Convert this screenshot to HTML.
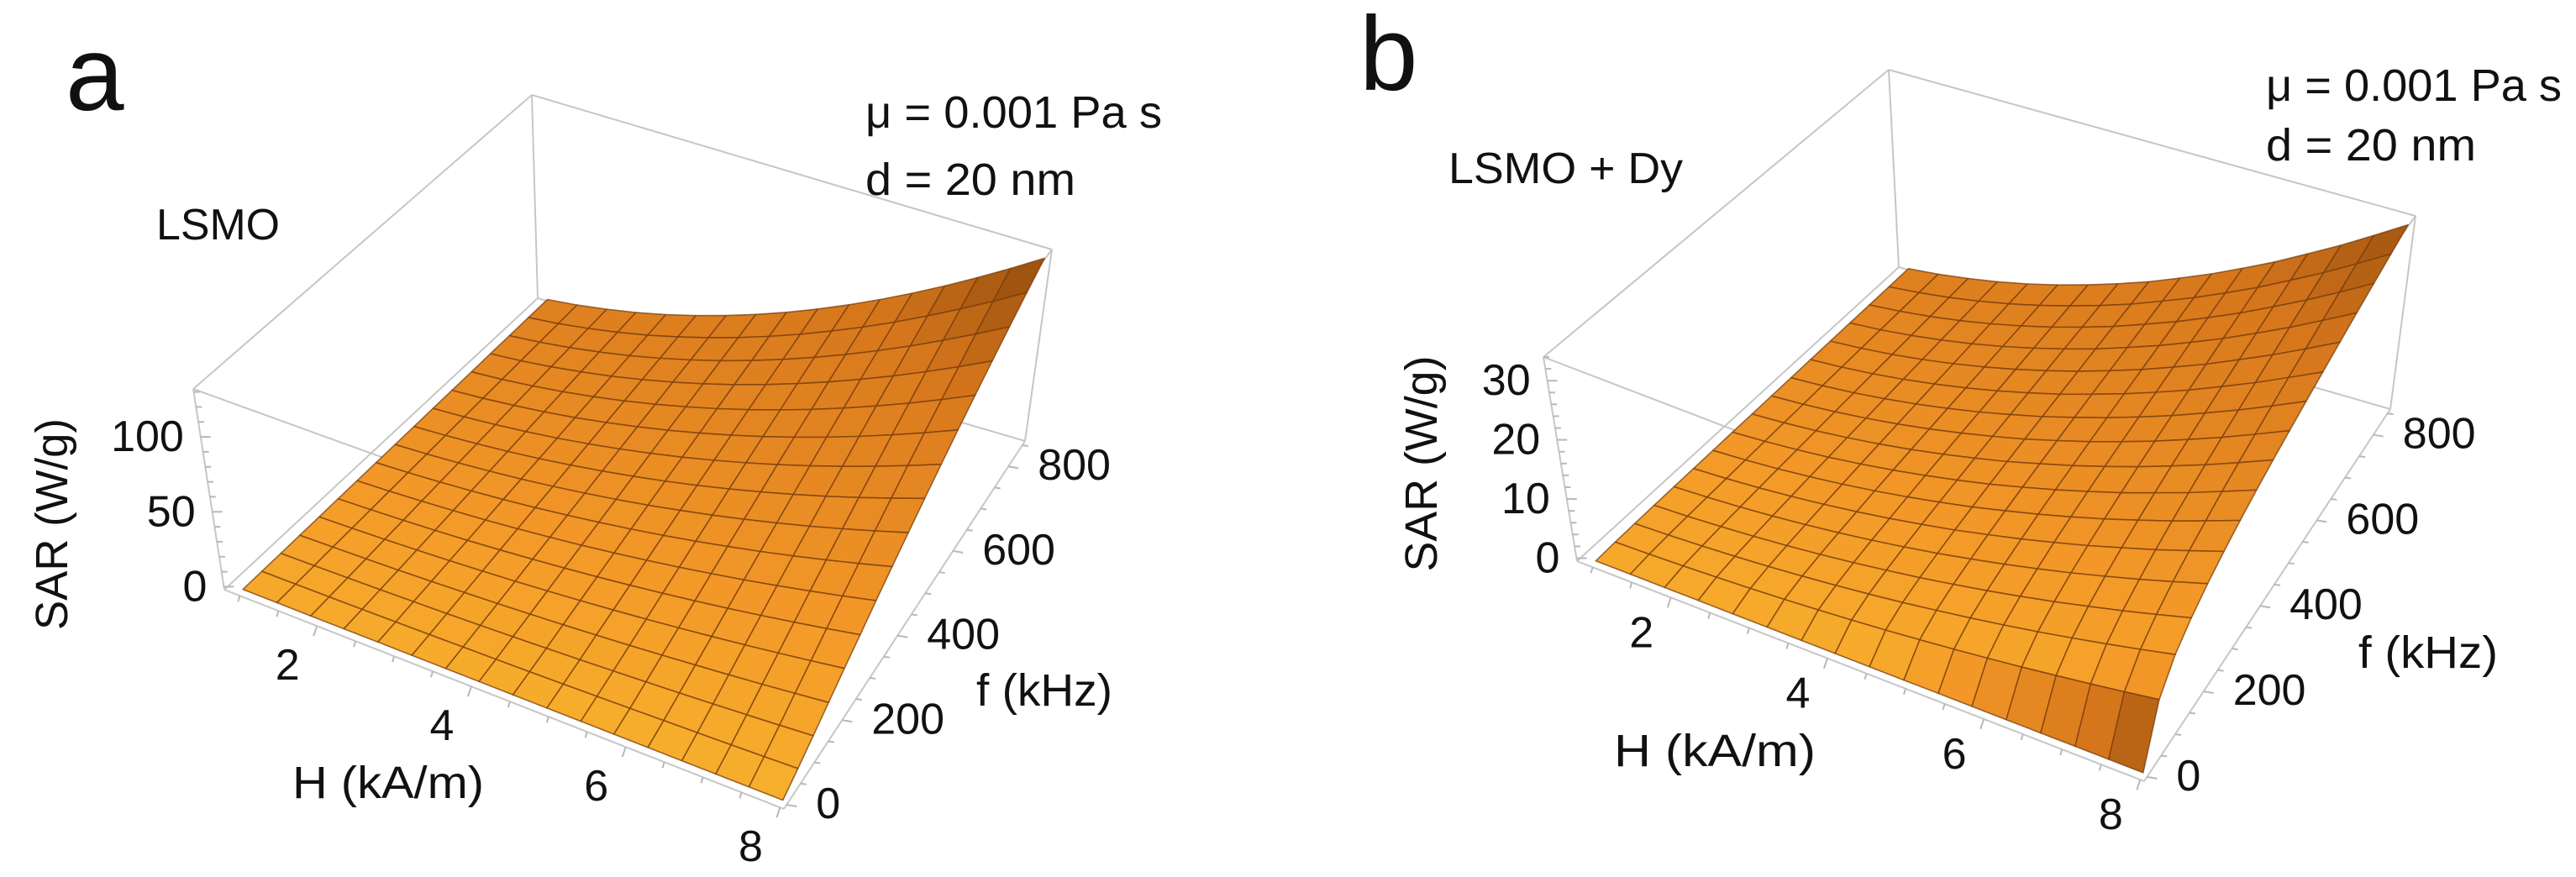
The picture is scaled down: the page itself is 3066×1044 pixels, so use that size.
<!DOCTYPE html>
<html><head><meta charset="utf-8"><style>
html,body{margin:0;padding:0;background:#fff;}
svg{display:block;}
text{font-family:"Liberation Sans",sans-serif;fill:#111;}
</style></head><body>
<svg id="fig" width="3066" height="1044" viewBox="0 0 3066 1044" xmlns="http://www.w3.org/2000/svg">
<rect width="3066" height="1044" fill="#fff"/>
<g id="panelA">
<text x="78" y="131" font-size="125">a</text>
<text x="1030" y="152" font-size="54" textLength="353" lengthAdjust="spacingAndGlyphs">μ = 0.001 Pa s</text>
<text x="1030" y="232" font-size="54" textLength="250" lengthAdjust="spacingAndGlyphs">d = 20 nm</text>
<text x="186" y="285" font-size="52" textLength="147" lengthAdjust="spacingAndGlyphs">LSMO</text>
<text transform="translate(80,624) rotate(-90)" text-anchor="middle" font-size="54" textLength="252" lengthAdjust="spacingAndGlyphs">SAR (W/g)</text>
<text x="348" y="950" font-size="54" textLength="228" lengthAdjust="spacingAndGlyphs">H (kA/m)</text>
<text x="1162" y="840" font-size="54" textLength="162" lengthAdjust="spacingAndGlyphs">f (kHz)</text>
</g>
<g id="panelB">
<text x="1618" y="107" font-size="125">b</text>
<text x="2697" y="120" font-size="54" textLength="352" lengthAdjust="spacingAndGlyphs">μ = 0.001 Pa s</text>
<text x="2697" y="191" font-size="54" textLength="250" lengthAdjust="spacingAndGlyphs">d = 20 nm</text>
<text x="1724" y="218" font-size="52" textLength="279" lengthAdjust="spacingAndGlyphs">LSMO + Dy</text>
<text transform="translate(1710,552) rotate(-90)" text-anchor="middle" font-size="54" textLength="257" lengthAdjust="spacingAndGlyphs">SAR (W/g)</text>
<text x="1921" y="912" font-size="54" textLength="240" lengthAdjust="spacingAndGlyphs">H (kA/m)</text>
<text x="2807" y="795" font-size="54" textLength="166" lengthAdjust="spacingAndGlyphs">f (kHz)</text>
</g>
</svg>
<script>
// ---- data ----
const hGrid = [1,1.44,1.88,2.31,2.75,3.19,3.63,4.06,4.5,4.94,5.38,5.81,6.25,6.69,7.13,7.56,8];
const fGrid = [0,53,106,159,213,266,319,372,425,478,531,584,638,691,744,797,850];
// panel a: SAR at max f vs H, and SAR at max H vs f
const sarA_vsH = [2.0,4.1,7.1,10.7,15.1,20.4,26.4,33.0,40.5,48.8,57.9,67.5,78.1,89.5,101.7,114.3,128];
const sarA_vsF = [0,6.1,13.0,20.3,27.9,35.6,43.6,51.6,59.7,68.0,76.3,84.8,93.3,101.9,110.5,119.2,128];
// panel b
const sarB_vsH = [0.52,1.07,1.82,2.75,3.9,5.25,6.8,8.5,10.4,12.6,14.9,17.4,20.1,23.1,26.2,29.5,33];
const sarB_vsF = [0,9,13,15.5,17.5,19.2,20.7,22.1,23.4,24.6,25.8,27,28.2,29.4,30.6,31.8,33];
const hTicks = [2,4,6,8];
const fTicks = [0,200,400,600,800];
const sarTicksA = [0,50,100];
const sarTicksB = [0,10,20,30];

const NS = "http://www.w3.org/2000/svg";
function mk(parent, tag, attrs){ const e=document.createElementNS(NS,tag); for(const k in attrs) e.setAttribute(k,attrs[k]); parent.appendChild(e); return e; }

function drawPanel(g, cfg, vsH, vsF, zTicks, name){
  const c = cfg.corners;
  function proj(u,v,w){
    let x=0,y=0;
    for(let a=0;a<2;a++)for(let b=0;b<2;b++)for(let d=0;d<2;d++){
      const wt=(a?u:1-u)*(b?v:1-v)*(d?w:1-w);
      x+=wt*c[a][b][d][0]; y+=wt*c[a][b][d][1];
    }
    return [x,y];
  }
  const uOf=h=>(h-cfg.hMin)/(cfg.hMax-cfg.hMin);
  const vOf=f=>(f-cfg.fMin)/(cfg.fMax-cfg.fMin);
  const wOf=s=>(s-cfg.zMin)/(cfg.zMax-cfg.zMin);
  const boxG = mk(g,'g',{});
  
  
  const edges=[[[0,0,0],[1,0,0]],[[1,0,0],[1,1,0]],[[1,1,0],[0,1,0]],[[0,1,0],[0,0,0]],
    [[0,0,1],[1,0,1]],[[1,0,1],[1,1,1]],[[1,1,1],[0,1,1]],[[0,1,1],[0,0,1]],
    [[0,0,0],[0,0,1]],[[1,1,0],[1,1,1]],[[0,1,0],[0,1,1]]];
  edges.forEach(e=>{ const p=proj(...e[0]), q=proj(...e[1]);
    mk(boxG,'line',{x1:p[0],y1:p[1],x2:q[0],y2:q[1],stroke:'#c6c6c6','stroke-width':2}); });
  const tickG = mk(g,'g',{});
  
  
  function tk(p,dx,dy){ mk(tickG,'line',{x1:p[0],y1:p[1],x2:p[0]+dx,y2:p[1]+dy,stroke:'#b8b8b8','stroke-width':2}); }
  for(let h=1;h<=8;h+=0.5){ tk(proj(uOf(h),0,0), (h%2===0?-4:-2), (h%2===0?12:7)); }
  for(let f=0;f<=850;f+=50){ tk(proj(1,vOf(f),0), (f%200===0?12:7), (f%200===0?2:1)); }
  const zStep = zTicks[1]-zTicks[0];
  for(let s=0;s<=cfg.zMax;s+=zStep/5){ tk(proj(0,0,wOf(s)), (Math.abs(s/zStep-Math.round(s/zStep))<1e-6?12:7), 0); }
  const sMax = vsH[vsH.length-1];
  const W=[]; for(let i=0;i<hGrid.length;i++){ W.push([]); for(let j=0;j<fGrid.length;j++) W[i].push(wOf(vsH[i]*vsF[j]/sMax)); }
  const surf = mk(g,'g',{});
  
  
  const cells=[];
  for(let i=0;i<hGrid.length-1;i++)for(let j=0;j<fGrid.length-1;j++) cells.push([i,j]);
  cells.sort((A,B)=>(uOf(hGrid[A[0]])-vOf(fGrid[A[1]]))-(uOf(hGrid[B[0]])-vOf(fGrid[B[1]])));
  const ramp=[[0,[252,198,48]],[0.4,[243,152,40]],[0.75,[214,118,28]],[1,[150,78,14]]];
  function col(t){ t=Math.max(0,Math.min(1,t)); for(let k=0;k<ramp.length-1;k++){ const [t0,c0]=ramp[k],[t1,c1]=ramp[k+1]; if(t<=t1){ const r=(t-t0)/(t1-t0); return 'rgb('+c0.map((x,ii)=>Math.round(x+(c1[ii]-x)*r)).join(',')+')'; } } return 'rgb(150,78,14)'; }
  cells.forEach(([i,j])=>{
    const u0=uOf(hGrid[i]),u1=uOf(hGrid[i+1]),v0=vOf(fGrid[j]),v1=vOf(fGrid[j+1]);
    const pts=[proj(u0,v0,W[i][j]),proj(u1,v0,W[i+1][j]),proj(u1,v1,W[i+1][j+1]),proj(u0,v1,W[i][j+1])];
    const a=((W[i+1][j]-W[i][j])+(W[i+1][j+1]-W[i][j+1]))/2/(u1-u0);
    const b=((W[i][j+1]-W[i][j])+(W[i+1][j+1]-W[i+1][j]))/2/(v1-v0);
    const slope=Math.sqrt(a*a+b*b);
    const steep=Math.max(0,Math.min(1,(slope-1.4)/3));
    const um=(u0+u1)/2, vm=(v0+v1)/2, wm=(W[i][j]+W[i+1][j+1])/2;
    const t=0.24+0.4*vm+0.25*wm+0.7*steep-0.06*um*(1-vm);
    const poly=mk(surf,'polygon',{points:pts.map(p=>p[0].toFixed(1)+','+p[1].toFixed(1)).join(' '),fill:col(t),stroke:'rgba(120,62,12,0.75)','stroke-width':1.6,'stroke-linejoin':'round'});
    
    
  });
  const lab = mk(g,'g',{});
  
  
  hTicks.forEach(h=>{ const p=proj(uOf(h),0,0);
    const t=mk(lab,'text',{x:p[0]+cfg.hOff[0],y:p[1]+cfg.hOff[1]+19,'font-size':52,'text-anchor':'middle'}); t.textContent=h;
    
     });
  fTicks.forEach(f=>{ const p=proj(1,vOf(f),0);
    const t=mk(lab,'text',{x:p[0]+35,y:p[1]+16,'font-size':52}); t.textContent=f;
    
     });
  zTicks.forEach(s=>{ const p=proj(0,0,wOf(s));
    const t=mk(lab,'text',{x:p[0]-20,y:p[1]+17,'font-size':52,'text-anchor':'end'}); t.textContent=s;
    
     });
}

const cfgA={hMin:0.8,hMax:8.05,fMin:-10,fMax:860,zMin:-2,zMax:132,hOff:[-35,45],
  corners:[[[[267,702],[230,463]],[[640,355],[633,113]]],[[[933,963],[940,720]],[[1220,525],[1252,297]]]]};
const cfgB={hMin:0.8,hMax:8.05,fMin:-10,fMax:860,zMin:-0.5,zMax:34,hOff:[-35,40],
  corners:[[[[1877,668],[1837,425]],[[2260,318],[2248,83]]],[[[2552,930],[2555,700]],[[2845,487],[2875,257]]]]};
drawPanel(document.getElementById('panelA'),cfgA,sarA_vsH,sarA_vsF,sarTicksA,'panel-a');
drawPanel(document.getElementById('panelB'),cfgB,sarB_vsH,sarB_vsF,sarTicksB,'panel-b');
</script>
</body></html>
